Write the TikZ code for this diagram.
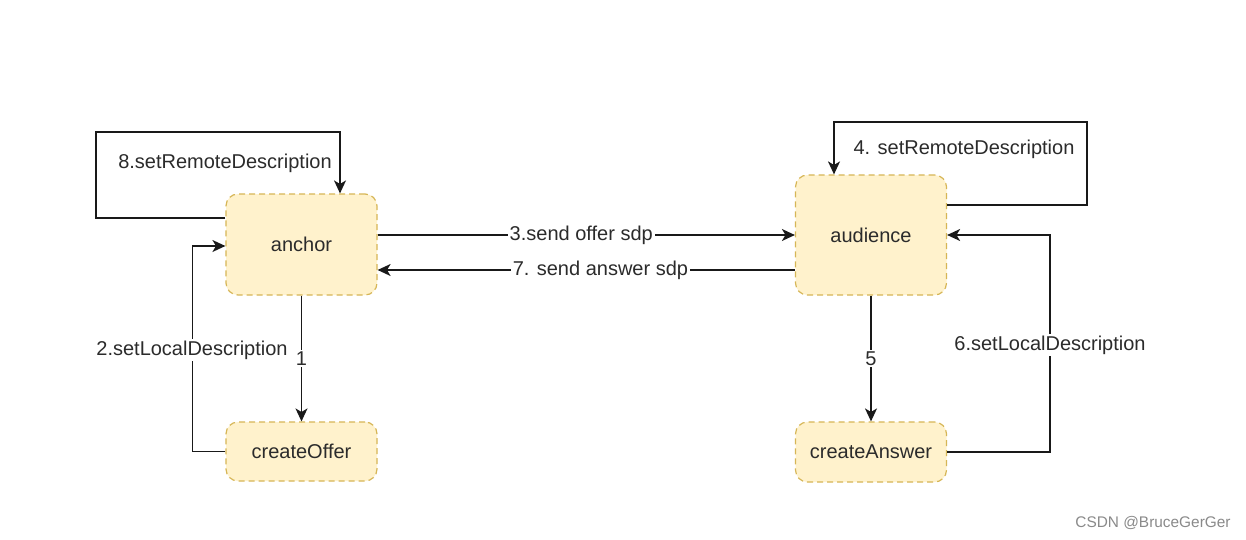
\documentclass[tikz,border=0pt]{standalone}
\usepackage{fontspec}
\setmainfont{Liberation Sans}
\usetikzlibrary{arrows.meta,calc}
\definecolor{boxfill}{HTML}{FFF2CC}
\definecolor{boxline}{HTML}{D6B656}
\definecolor{txt}{HTML}{2B2B2B}
\definecolor{wm}{HTML}{8A8A8A}
\tikzset{
  box/.style={draw=boxline, fill=boxfill, dashed, dash pattern=on 3pt off 2pt, line width=0.6pt,
    rounded corners=6pt, inner sep=0pt, text=txt, font=\fontsize{10}{12}\selectfont},
  arr/.style={draw=black!90, line width=0.75pt, -{Stealth[length=6.5pt,width=6pt,inset=1.8pt]}},
  lbl/.style={text=txt, font=\fontsize{10}{12}\selectfont, inner sep=1pt},
  onl/.style={lbl, fill=white},
}
\begin{document}
\begin{tikzpicture}[x=0.5pt,y=-0.5pt]
\useasboundingbox[fill=white] (0,0) rectangle (1246,540);
% nodes
\node[box, minimum width=75.5pt, minimum height=50.5pt] (anchor) at (301.5,244.5) {anchor};
\node[box, minimum width=75.5pt, minimum height=29.5pt] (createOffer) at (301.5,451.5) {createOffer};
\node[box, minimum width=75.5pt, minimum height=60pt] (audience) at (871,235) {audience};
\node[box, minimum width=75.5pt, minimum height=30pt] (createAnswer) at (871,452) {createAnswer};
% 8
\draw[arr] ($(anchor.west)+(0,-26.5)$) -| (96,132) -| ($(anchor.north)+(38.5,0)$);
\node[lbl] (l8) at (225,163) {8.setRemoteDescription};
% 2
\draw[arr] (createOffer.west) -| ($(anchor.west)+(-33,1.5)$) -- ($(anchor.west)+(0,1.5)$);
\node[onl] (l2) at (192,350) {2.setLocalDescription};
% 1
\draw[arr] (anchor.south) -- node[onl, pos=0.5] (l1) {1} (createOffer.north);
% 3
\draw[arr] (anchor.east |- audience.west) -- node[onl, pos=0.488] (l3) {3.send offer sdp} (audience.west);
% 7
\draw[arr] ($(audience.west)+(0,35)$) -- node[onl, pos=0.466] (l7) {7. send answer sdp} ($(anchor.east)+(0,25.5)$);
% 4
\draw[arr] ($(audience.east)+(0,-30)$) -| (1087,122) -| ($(audience.north)+(-37,0)$);
\node[lbl] (l4) at (964,149) {4. setRemoteDescription};
% 5
\draw[arr] (audience.south) -- node[onl, pos=0.5] (l5) {5} (createAnswer.north);
% 6
\draw[arr] (createAnswer.east) -| (1050,235) -- (audience.east);
\node[onl] (l6) at (1050,345) {6.setLocalDescription};
% watermark
\node[text=wm, font=\fontsize{7.7}{9}\selectfont, inner sep=0pt] (wmk) at (1153,523) {CSDN @BruceGerGer};
\end{tikzpicture}
\end{document}
